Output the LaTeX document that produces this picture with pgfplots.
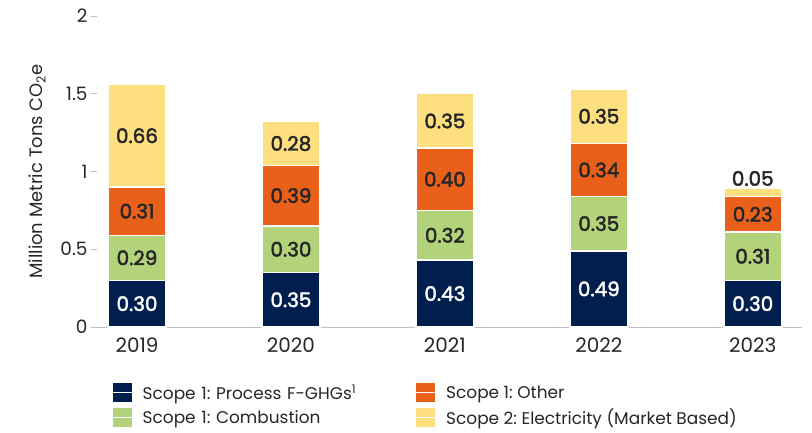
\documentclass[border=0pt]{standalone}
\usepackage{fontspec}
\setmainfont{Poppins}
\newfontfamily\labfont{Poppins}[FakeBold=2.2]
\usepackage{pgfplots}
\pgfplotsset{compat=1.18}
\definecolor{navy}{HTML}{001E4E}
\definecolor{lgreen}{HTML}{B2D37A}
\definecolor{orng}{HTML}{E86019}
\definecolor{ylw}{HTML}{FDDF7F}
\definecolor{txt}{HTML}{262626}
\pgfplotstableread{
x a b c d
0 0.30 0.29 0.31 0.66
1 0.35 0.30 0.39 0.28
2 0.43 0.32 0.40 0.35
3 0.49 0.35 0.34 0.35
4 0.30 0.31 0.23 0.05
}\data
\pgfplotstableread{
x y lab
0 0.15 0.30
1 0.175 0.35
2 0.215 0.43
3 0.245 0.49
4 0.15 0.30
}\whitelabels
\pgfplotstableread{
x y lab
0 0.445 0.29
0 0.745 0.31
0 1.23 0.66
1 0.50 0.30
1 0.845 0.39
1 1.18 0.28
2 0.59 0.32
2 0.95 0.40
2 1.325 0.35
3 0.665 0.35
3 1.01 0.34
3 1.355 0.35
4 0.455 0.31
4 0.725 0.23
4 0.955 0.05
}\darklabels
\begin{document}
\frenchspacing
\begin{tikzpicture}
\useasboundingbox (0,0) rectangle (812bp,433bp);
\pgfplotsset{
  common/.style={
    at={(97bp,106bp)}, anchor=south west,
    scale only axis, width=705bp, height=311bp,
    xmin=-0.26, xmax=4.32, ymin=0, ymax=2,
  }
}
\begin{axis}[common,
  ybar stacked, bar width=58bp,
  axis x line*=bottom, axis y line*=left,
  x axis line style={draw=black!25, line width=0.8bp},
  y axis line style={draw=none},
  xtick={0,1,2,3,4}, xticklabels={2019,2020,2021,2022,2023},
  xtick style={draw=none},
  ytick={0,0.5,1,1.5,2},
  yticklabels={0,0.5,1,1.5,2},
  ytick style={draw=black!25, line width=0.8bp},
  major tick length=6bp, tick align=outside,
  yticklabel style={font=\fontsize{18.5}{20}\selectfont, text=txt},
  xticklabel style={font=\fontsize{20}{22}\selectfont, text=txt, yshift=-1bp},
  ylabel={Million Metric Tons CO\textsubscript{2}e},
  ylabel style={at={(axis description cs:-0.085,0.5)}, anchor=center, font=\fontsize{18}{20}\selectfont, text=txt},
  legend columns=2, transpose legend,
  legend style={at={(axis description cs:0.0213,-0.178)}, anchor=north west, draw=none,
    font=\fontsize{17}{20}\selectfont, text=txt,
    /tikz/column 2/.append style={text width=271bp},
    row sep=4bp, inner sep=0pt},
  legend cell align=left,
  legend image code/.code={\path[#1, draw=none] (0bp,-9.5bp) rectangle (19bp,9.5bp); \path (0bp,0bp) -- (27bp,0bp);},
]
\addplot[fill=navy, draw=white, line width=1.5bp] table[x=x, y=a] {\data};
\addlegendentry{Scope 1: Process F-GHGs\textsuperscript{1}}
\addplot[fill=lgreen, draw=white, line width=1.5bp] table[x=x, y=b] {\data};
\addlegendentry{Scope 1: Combustion}
\addplot[fill=orng, draw=white, line width=1.5bp] table[x=x, y=c] {\data};
\addlegendentry{Scope 1: Other}
\addplot[fill=ylw, draw=white, line width=1.5bp] table[x=x, y=d] {\data};
\addlegendentry{Scope 2: Electricity (Market Based)}
\end{axis}
\begin{axis}[common, hide axis]
\addplot[draw=none, mark=none, nodes near coords, point meta=explicit symbolic,
  every node near coord/.append style={anchor=center, text=white, font=\labfont\fontsize{20}{22}\selectfont}]
  table[x=x, y=y, meta=lab] {\whitelabels};
\addplot[draw=none, mark=none, nodes near coords, point meta=explicit symbolic,
  every node near coord/.append style={anchor=center, text=txt, font=\labfont\fontsize{20}{22}\selectfont}]
  table[x=x, y=y, meta=lab] {\darklabels};
\end{axis}
\end{tikzpicture}
\end{document}
